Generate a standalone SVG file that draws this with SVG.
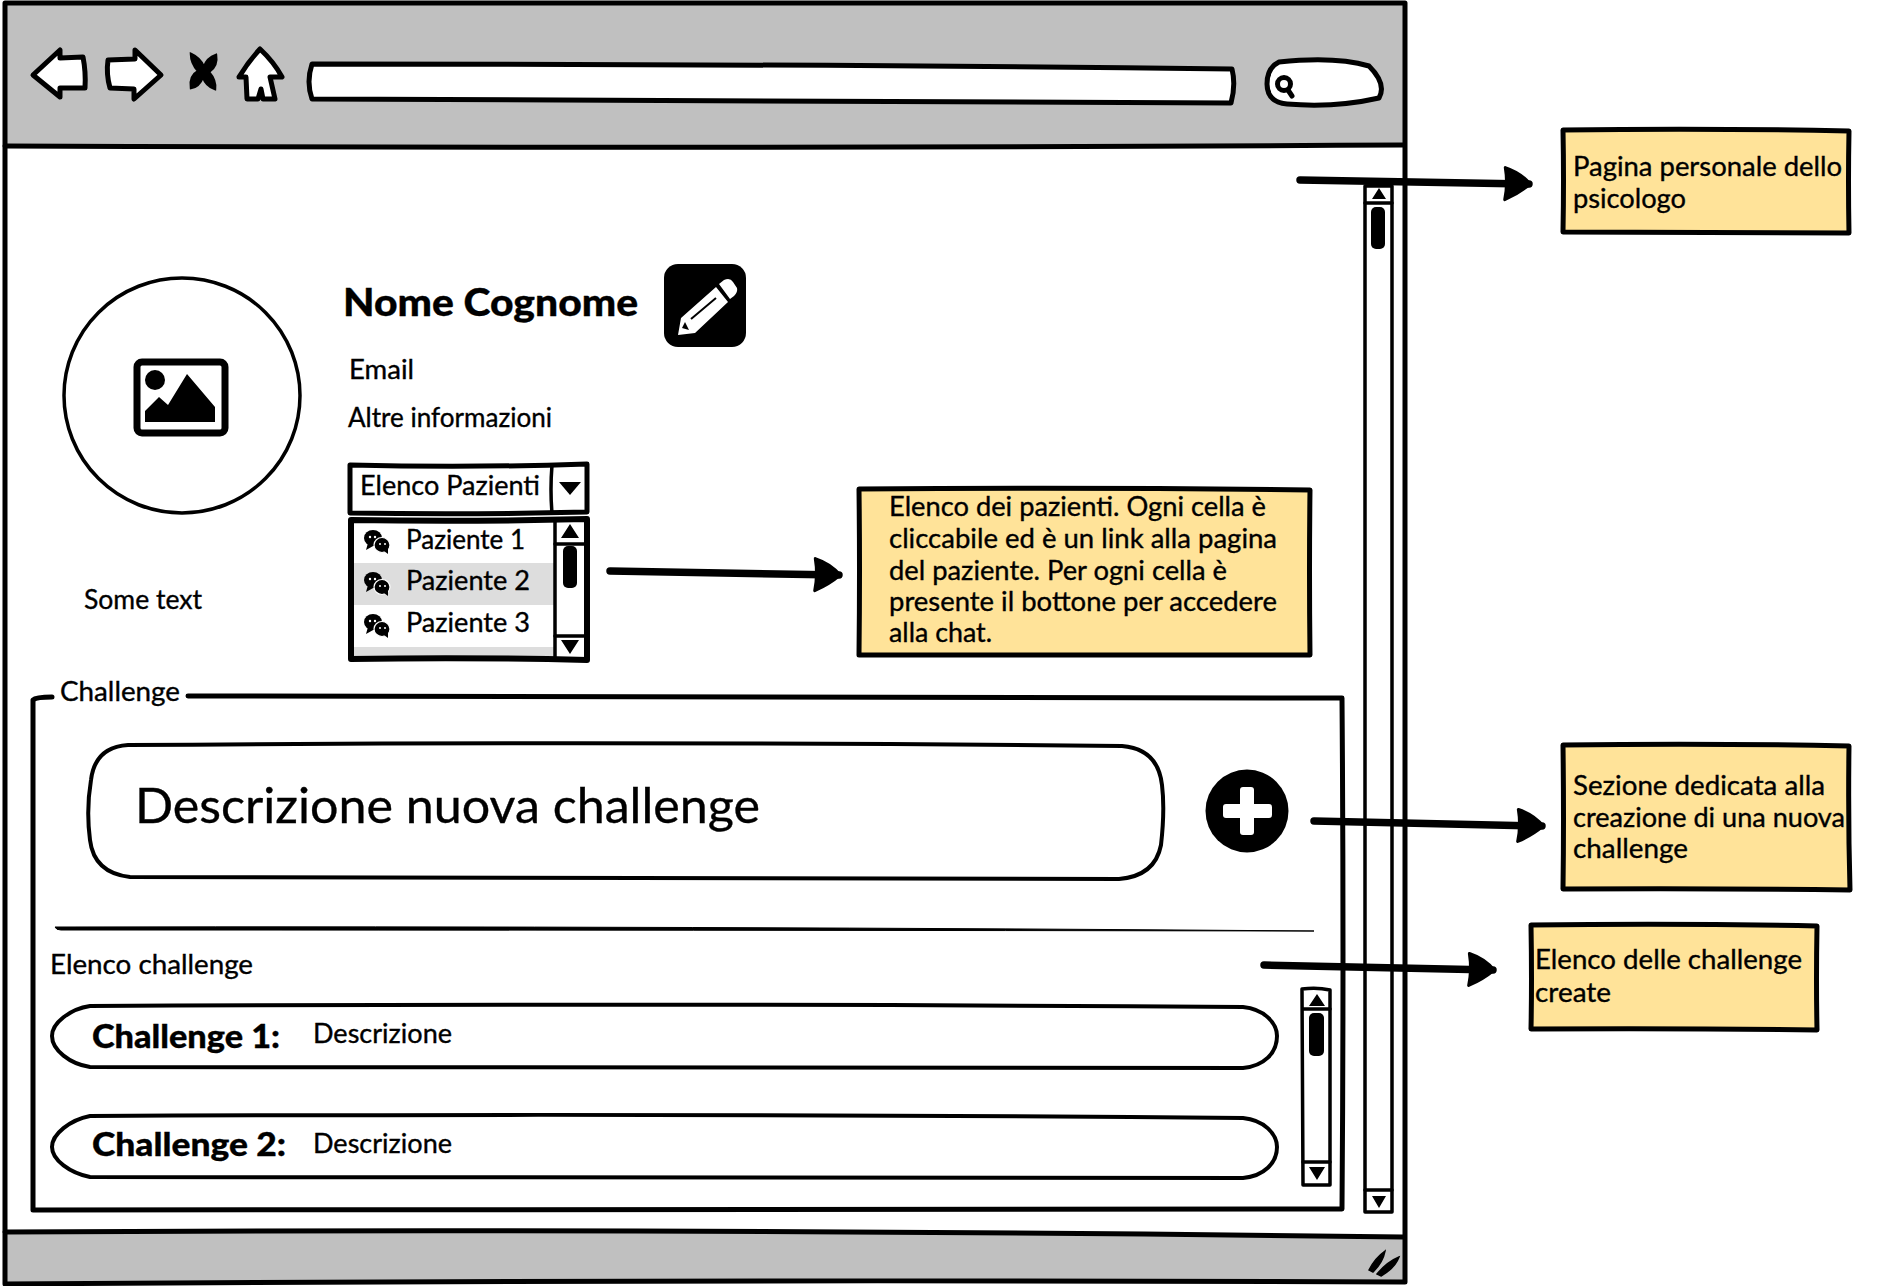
<svg xmlns="http://www.w3.org/2000/svg" width="1880" height="1286" viewBox="0 0 1880 1286">
<style>
text{font-family:"Lato","Noto Sans",sans-serif;font-size:26px;fill:#000;stroke:#000;stroke-width:.35}
.b{font-weight:900}
.k{fill:none;stroke:#000;stroke-width:5;stroke-linejoin:round;stroke-linecap:round}
.t{stroke-width:3.5}
.w{fill:#fff}
.g{fill:#c0c0c0}
.n{fill:#ffe399;stroke:#000;stroke-width:5;stroke-linejoin:round}
.f{fill:#000}
.a{fill:none;stroke:#000;stroke-width:7.5;stroke-linecap:round}
</style>
<defs>
<marker id="head" markerUnits="userSpaceOnUse" viewBox="-32 -22 38 44" refX="0" refY="0" markerWidth="38" markerHeight="44" orient="auto">
<path d="M-24,-16 Q-8,-11 1,0 Q-9,9 -24,16 Q-21,0 -24,-16Z" fill="#000" stroke="#000" stroke-width="3" stroke-linejoin="round"/>
</marker>
<g id="chat">
<ellipse cx="-4" cy="-3" rx="9" ry="8" class="f"/><path d="M-9,2 L-11,9 L-2,4Z" class="f"/>
<ellipse cx="5" cy="4" rx="8" ry="7.5" class="f" stroke="#fff" stroke-width="1.2"/><path d="M7,10 L11,13 L11,6Z" class="f"/>
<circle cx="-7" cy="-4" r="1.2" fill="#fff"/><circle cx="-2" cy="-4" r="1.2" fill="#fff"/><circle cx="3" cy="3" r="1" fill="#fff"/><circle cx="8" cy="3" r="1" fill="#fff"/>
</g>
</defs>

<g id="window">
<path class="w" d="M4,4H1404V1283H4Z"/>
<path class="g" d="M5,5H1403V146H5Z"/>
<path class="g" d="M5,1233Q700,1228 1403,1238V1282H5Z"/>
<path class="k" d="M5,146Q700,149 1403,145"/>
<path class="k" d="M5,1232Q700,1228 1403,1237"/>
<path class="k" d="M5,3Q700,5 1405,3Q1403,640 1405,1282Q700,1279 5,1284Q3,640 5,3Z"/>
<path id="back" class="k w" d="M33,75L60,50L60,58L83,57Q86,72 85,88L60,88L60,97Z"/>
<path id="forward" class="k w" d="M108,60L135,59L135,50L161,75L134,99L134,89L110,88Q106,74 108,60Z"/>
<path id="stop" class="f" stroke="#000" stroke-width="2.5" d="M191,54Q200,58 204,67Q207,58 216,55Q218,66 209,72Q216,80 215,89Q206,86 203,77Q199,87 191,88Q189,76 198,71Q191,63 191,54Z"/>
<path id="home" class="k w" d="M260,49Q274,62 282,77L270,77L275,99L263,99L261,89L258,99L247,99L246,77L239,77Q248,62 260,49Z"/>
<path id="url" class="k w" d="M312,64Q800,64 1232,69Q1236,85 1231,103Q800,100 312,99Q306,82 312,64Z"/>
<path id="search" class="k w" d="M1279,62Q1335,56 1369,66Q1387,84 1379,98Q1335,108 1287,104Q1267,102 1267,84Q1267,68 1279,62Z"/>
<circle class="k" cx="1284" cy="84" r="6.5"/><path class="k" d="M1288,90L1292,96"/>
<path id="grip" class="f" stroke="#000" stroke-width="1.5" d="M1369,1270Q1375,1258 1385,1251Q1383,1262 1373,1272ZM1377,1274Q1387,1262 1399,1257Q1395,1268 1381,1276Z"/>
</g>

<g id="page-scrollbar">
<path class="k t w" d="M1365,186L1392,186L1392,1212L1365,1212Z"/>
<path class="k t" d="M1365,203H1392M1365,1190H1392"/>
<path class="f" d="M1379,188L1386,199H1372ZM1379,1208L1372,1196H1386Z"/>
<rect x="1371" y="207" width="14" height="42" rx="5" class="f"/>
</g>

<g id="avatar">
<ellipse cx="182" cy="395.500" rx="118" ry="117.500" class="k t w"/>
<rect x="137" y="362" width="88" height="71" rx="5" class="k" style="stroke-width:7"/>
<circle cx="155" cy="380" r="10" class="f"/>
<path class="f" d="M145,422L145,411L159,397L168,405L187,374L215,407L215,422Z"/>
<text x="84" y="609" textLength="118" lengthAdjust="spacingAndGlyphs">Some text</text>
</g>

<g id="profile">
<text class="b" x="343" y="316" style="font-size:38px" textLength="295" lengthAdjust="spacingAndGlyphs">Nome Cognome</text>
<text x="349" y="379" textLength="65" lengthAdjust="spacingAndGlyphs">Email</text>
<text x="348" y="427" textLength="204" lengthAdjust="spacingAndGlyphs">Altre informazioni</text>
</g>

<g id="edit">
<rect x="664" y="264" width="82" height="83" rx="14" class="f"/>
<path fill="#fff" d="M719,284L724,280Q730,277 733,282L737,288Q738,292 734,296L730,299ZM716,287L728,302L695,333L678,335L681,318Z"/>
<path stroke="#000" stroke-width="2" d="M691,319L716,298"/>
<path class="f" d="M682,328L685,322L689,330Z"/>
</g>

<g id="combo">
<path class="k w" d="M350,465Q470,468 587,464L587,512Q470,515 350,513Z"/>
<path class="k t" d="M552,465Q550,490 552,513"/>
<path class="f" d="M559,482H581L570,495Z"/>
<text x="360" y="495" textLength="180" lengthAdjust="spacingAndGlyphs">Elenco Pazienti</text>
</g>

<g id="patient-list">
<rect x="351" y="518" width="236" height="142" class="w"/>
<rect x="353" y="563" width="202" height="42" fill="#ddd"/>
<rect x="353" y="647" width="202" height="14" fill="#ddd"/>
<path class="k" style="stroke-width:6" d="M351,520Q470,522 587,519L587,660Q470,657 351,659Z"/>
<path class="k t" d="M555,520V658"/>
<path class="k t" d="M555,544H584M555,636H584"/>
<path class="f" d="M570,524L579,538H561ZM570,654L561,640H579Z"/>
<rect x="563" y="546" width="14" height="42" rx="5" class="f"/>
<use href="#chat" x="377" y="541"/><use href="#chat" x="377" y="583"/><use href="#chat" x="377" y="625"/>
<text x="406" y="549" textLength="119" lengthAdjust="spacingAndGlyphs">Paziente 1</text>
<text x="406" y="590" textLength="124" lengthAdjust="spacingAndGlyphs">Paziente 2</text>
<text x="406" y="632" textLength="124" lengthAdjust="spacingAndGlyphs">Paziente 3</text>
</g>

<g id="challenge-section">
<path class="k" d="M52,697Q36,697 33,700Q34,950 33,1210M188,696Q780,697 1342,698Q1344,950 1342,1209Q700,1207 33,1210"/>
<text x="60" y="701" textLength="120" lengthAdjust="spacingAndGlyphs">Challenge</text>
<path class="f" d="M55,927Q700,926 1314,931Q700,930 61,930Q56,930 55,927Z" stroke="#000" stroke-width="1"/>
<text x="50" y="974" textLength="203" lengthAdjust="spacingAndGlyphs">Elenco challenge</text>
</g>

<g id="new-challenge">
<path class="k t" style="stroke-width:4" d="M128,745Q640,741 1122,746Q1158,749 1162,785Q1165,810 1161,845Q1155,876 1119,879Q640,877 130,877Q94,873 90,840Q86,810 91,780Q95,747 128,745Z"/>
<text x="135" y="823" style="font-size:48px" textLength="625" lengthAdjust="spacingAndGlyphs">Descrizione nuova challenge</text>
</g>

<g id="add">
<circle cx="1247" cy="811" r="41.5" class="f"/>
<rect x="1223" y="804" width="49" height="14" rx="3" fill="#fff"/>
<rect x="1240" y="787" width="14" height="48" rx="3" fill="#fff"/>
</g>

<g id="challenge-1">
<path class="k t" style="stroke-width:4" d="M90,1006Q700,1003 1243,1007C1264,1009 1277,1023 1277,1036C1277,1053 1264,1066 1243,1068Q700,1066 90,1067C70,1064 52,1050 52,1036C52,1023 70,1009 90,1006Z"/>
<text class="b" x="92" y="1048" style="font-size:32px" textLength="188" lengthAdjust="spacingAndGlyphs">Challenge 1:</text>
<text x="313" y="1043" textLength="139" lengthAdjust="spacingAndGlyphs">Descrizione</text>
</g>
<g id="challenge-2">
<path class="k t" style="stroke-width:4" d="M90,1116Q700,1113 1243,1118C1264,1120 1277,1134 1277,1147C1277,1163 1264,1176 1243,1178Q700,1176 90,1177C70,1173 52,1160 52,1147C52,1134 70,1120 90,1116Z"/>
<text class="b" x="92" y="1156" style="font-size:32px" textLength="194" lengthAdjust="spacingAndGlyphs">Challenge 2:</text>
<text x="313" y="1153" textLength="139" lengthAdjust="spacingAndGlyphs">Descrizione</text>
</g>

<g id="list-scrollbar">
<path class="k t w" d="M1302,989Q1317,987 1330,990L1330,1185L1303,1185Z"/>
<path class="k t" d="M1303,1009H1330M1303,1162H1330"/>
<path class="f" d="M1317,994L1325,1006H1309ZM1317,1180L1309,1167H1325Z"/>
<rect x="1309" y="1013" width="15" height="43" rx="5" class="f"/>
</g>

<g id="note-profile">
<path class="n" d="M1563,130Q1710,128 1849,131Q1848,180 1849,233Q1710,232 1563,232Q1564,180 1563,130Z"/>
<text x="1573" y="176" textLength="269" lengthAdjust="spacingAndGlyphs">Pagina personale dello</text>
<text x="1573" y="208" textLength="113" lengthAdjust="spacingAndGlyphs">psicologo</text>
</g>
<g id="note-patients">
<path class="n" d="M859,489Q1090,487 1310,490Q1309,570 1310,655Q1090,654 859,655Q860,570 859,489Z"/>
<text x="889" y="516" textLength="377" lengthAdjust="spacingAndGlyphs">Elenco dei pazienti. Ogni cella è</text>
<text x="889" y="548" textLength="388" lengthAdjust="spacingAndGlyphs">cliccabile ed è un link alla pagina</text>
<text x="889" y="580" textLength="338" lengthAdjust="spacingAndGlyphs">del paziente. Per ogni cella è</text>
<text x="889" y="611" textLength="388" lengthAdjust="spacingAndGlyphs">presente il bottone per accedere</text>
<text x="889" y="642" textLength="103" lengthAdjust="spacingAndGlyphs">alla chat.</text>
</g>
<g id="note-new">
<path class="n" d="M1563,745Q1710,743 1849,746Q1848,820 1850,890Q1710,888 1563,889Q1564,820 1563,745Z"/>
<text x="1573" y="795" textLength="252" lengthAdjust="spacingAndGlyphs">Sezione dedicata alla</text>
<text x="1573" y="827" textLength="272" lengthAdjust="spacingAndGlyphs">creazione di una nuova</text>
<text x="1573" y="858" textLength="115" lengthAdjust="spacingAndGlyphs">challenge</text>
</g>
<g id="note-list">
<path class="n" d="M1531,925Q1680,923 1817,926Q1816,980 1817,1030Q1680,1028 1531,1029Q1532,980 1531,925Z"/>
<text x="1535" y="969" textLength="267" lengthAdjust="spacingAndGlyphs">Elenco delle challenge</text>
<text x="1535" y="1002" textLength="76" lengthAdjust="spacingAndGlyphs">create</text>
</g>

<g id="connectors">
<path class="a" marker-end="url(#head)" d="M1300,180L1529,184"/>
<path class="a" marker-end="url(#head)" d="M610,571L839,575"/>
<path class="a" marker-end="url(#head)" d="M1314,821L1542,826"/>
<path class="a" marker-end="url(#head)" d="M1264,965L1493,970"/>
</g>
</svg>
